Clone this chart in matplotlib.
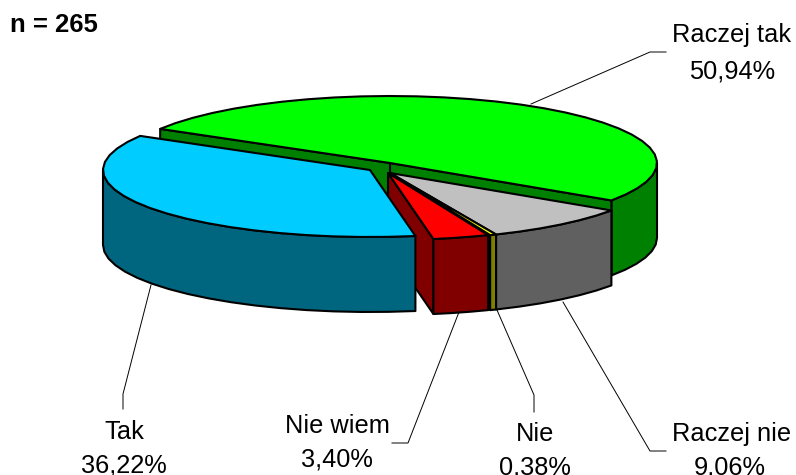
import matplotlib
matplotlib.use('Agg')
import matplotlib.pyplot as plt
import numpy as np

plt.rcParams['font.family'] = ['Liberation Sans', 'DejaVu Sans']

# Pie data (clockwise from the start angle)
labels = ['Raczej tak', 'Raczej nie', 'Nie', 'Nie wiem', 'Tak']
values = [50.94, 9.06, 0.38, 3.40, 36.22]
value_text = ['50,94%', '9,06%', '0,38%', '3,40%', '36,22%']

top_colors = ['#00FF00', '#C0C0C0', '#FFFF00', '#FF0000', '#00CCFF']
side_colors = ['#008000', '#606060', '#808000', '#800000', '#006680']

# Slice centres in pixels (exploded slices)
centers = [(390, 163), (390, 173), (390, 173), (388, 173), (370, 170)]
rx, ry = 267, 67
depth = 75
start_angle = 149.4
edge = 1.5

# label centre x, baselines of the two lines, then the leader line
label_pos = [(732, 42, 78), (732, 441, 475), (535, 441, 475), (337, 433, 467), (124, 439, 473)]
value_x = [732, 730, 535, 337, 124]
leaders = [
    [(531, 104), (650, 52), (666, 52)],
    [(563, 302), (650, 451), (666, 451)],
    [(497, 310), (534, 395), (534, 412)],
    [(459, 312), (408, 443), (392, 443)],
    [(151, 285), (123, 394), (123, 409)],
]

fig = plt.figure(figsize=(7.96, 4.75), dpi=100)
ax = fig.add_axes([0, 0, 1, 1])
ax.set_xlim(0, 796)
ax.set_ylim(475, 0)
ax.axis('off')


def arc(c, a1, a2):
    n = max(2, int(abs(a2 - a1) / 6) + 2)
    t = np.radians(np.linspace(a1, a2, n))
    return np.column_stack([c[0] + rx * np.cos(t), c[1] - ry * np.sin(t)])


def poly(pts, color):
    ax.fill(pts[:, 0], pts[:, 1], facecolor=color, edgecolor='black', lw=edge, joinstyle='round')


def top(i):
    pts = np.vstack([[centers[i]], arc(centers[i], starts[i], ends[i])])
    poly(pts, top_colors[i])


def outer(i):
    # front wall, only the part below the horizon can be seen
    a1 = min(starts[i], 0)
    a2 = max(ends[i], -180)
    pts = arc(centers[i], a1, a2)
    poly(np.vstack([pts, (pts + [0, depth])[::-1]]), side_colors[i])


def cut(i, a, color=None):
    c = np.array(centers[i], dtype=float)
    p = arc(centers[i], a, a)[0]
    poly(np.array([c, p, p + [0, depth], c + [0, depth]]), color or side_colors[i])


sweep = np.array(values) / np.sum(values) * 360
starts = start_angle - np.concatenate([[0], np.cumsum(sweep)[:-1]])
ends = starts - sweep

# green slice sits at the back
outer(0)
cut(0, starts[0])
cut(0, ends[0])
top(0)

# the thin slice's cut face only shows as a black gap next to the red wall
cut(2, ends[2], 'black')
# cut face of the red slice runs behind the blue one
cut(3, ends[3])
outer(4)
top(4)

outer(1)
top(1)
outer(2)
top(2)
outer(3)
top(3)

for i, name in enumerate(labels):
    x, y1, y2 = label_pos[i]
    ax.text(x, y1, name, ha='center', va='baseline', fontsize=18.3)
    ax.text(value_x[i], y2, value_text[i], ha='center', va='baseline', fontsize=18.3)
    pts = np.array(leaders[i])
    ax.plot(pts[:, 0], pts[:, 1], color='black', lw=0.7)

ax.text(10, 32, 'n = 265', fontsize=18.5, fontweight='bold', ha='left', va='baseline')

fig.savefig('out.png', dpi=100)
